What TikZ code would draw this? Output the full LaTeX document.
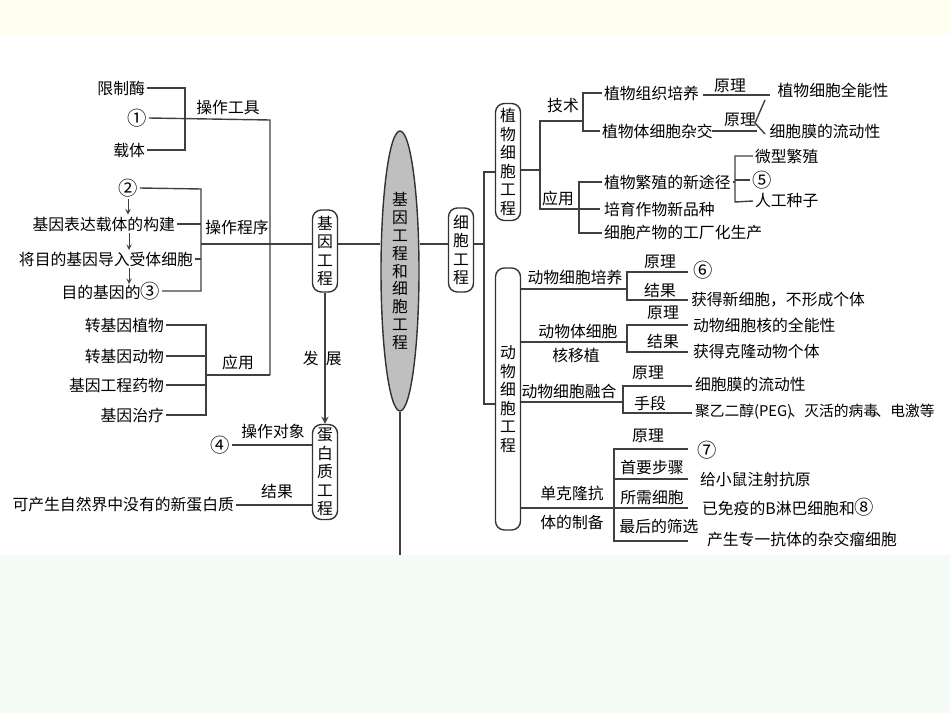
\documentclass[tikz,border=0pt]{standalone}
\usepackage{fontspec}
\setmainfont{Noto Sans CJK SC}
\usetikzlibrary{shapes.geometric, arrows}
\tikzstyle{vbox} = [rectangle, rounded corners=5pt, draw=black!80, thick, inner sep=1pt, minimum width=0.5cm, align=center, font=\fontsize{9}{10.5}\selectfont]
\tikzstyle{txt} = [inner sep=1pt, font=\fontsize{9}{11}\selectfont]
\tikzstyle{num} = [inner sep=1pt, font=\fontsize{11}{11}\selectfont]
\tikzstyle{line} = [draw=black!75, thick]
\tikzstyle{arrow} = [thick, ->, >=stealth, draw=black!75]

\begin{document}
\begin{tikzpicture}[x=0.02cm, y=-0.02cm]
                \useasboundingbox (0,0) rectangle (950,713);
                \fill[green!8!yellow!6] (0,0) rectangle (950,35);
                \fill[cyan!4!green!4] (0,555) rectangle (950,713);

                % centre
                \node (centre) [ellipse, draw=black!80, thick, fill=black!25, inner sep=0pt, minimum width=0.76cm, minimum height=5.6cm, align=center, font=\fontsize{9}{10.2}\selectfont] at (400,271) {基\\因\\工\\程\\和\\细\\胞\\工\\程};
                \coordinate (bottom) at (400,555);
                \draw [line] (centre.south) -- (bottom);
                \node (gene) [vbox, minimum height=1.64cm] at (325,251) {基\\因\\工\\程};
                \node (protein) [vbox, minimum height=1.9cm] at (325,472) {蛋\\白\\质\\工\\程};
                \node (cell) [vbox, minimum height=1.68cm] at (461,250) {细\\胞\\工\\程};
                \node (plant) [vbox, minimum height=2.34cm] at (508,162) {植\\物\\细\\胞\\工\\程};
                \node (animal) [vbox, minimum height=5.24cm] at (508,399) {动\\物\\细\\胞\\工\\程};
                \draw [line] (gene.east |- 0,244) -- (centre.west |- 0,244);
                \draw [line] (centre.east |- 0,244) -- (cell.west |- 0,244);
                \draw [line] (cell.east |- 0,244) -- (484,244);
                \draw [line] (plant.west |- 0,172) -| (484,404) -- (animal.west |- 0,404);
                \draw [arrow] (gene) -- node[txt, right, xshift=-14pt] {发\ \ 展} (protein);

                % gene engineering: tools
                \node (enzyme) [txt, anchor=east] at (147,88) {限制酶};
                \node (n1) [num] at (137,118) {①};
                \node (vector) [txt, anchor=east] at (147,150) {载体};
                \draw [line] (enzyme.east) -- (185,88) -- (185,150) -- (vector.east);
                \draw [line] (n1.east) -- (270,120) -- (270,375);
                \node [txt] at (228,107) {操作工具};

                % gene engineering: procedure
                \node (n2) [num] at (128,188) {②};
                \node (build) [txt, anchor=east] at (177,224) {基因表达载体的构建};
                \node (import) [txt, anchor=east] at (195,259) {将目的基因导入受体细胞};
                \node (detect) [txt, anchor=east] at (162,291) {目的基因的\fontsize{11}{11}\selectfont③};
                \draw [line] (n2.east) -- (201,189) -- (201,291) -- (detect.east);
                \draw [line] (build.east) -- (201,224);
                \draw [line] (import.east) -- (201,259);
                \draw [line] (201,244) -- (gene.west |- 0,244);
                \draw [arrow, thin] (n2.south) -- (n2.south |- build.north);
                \draw [arrow, thin] (129,233) -- (129,250);
                \draw [arrow, thin] (129,268) -- (129,284);
                \node [txt] at (237,227) {操作程序};

                % gene engineering: application
                \node (gplant) [txt, anchor=east] at (166,325) {转基因植物};
                \node (ganimal) [txt, anchor=east] at (166,356) {转基因动物};
                \node (drug) [txt, anchor=east] at (166,385) {基因工程药物};
                \node (therapy) [txt, anchor=east] at (166,415) {基因治疗};
                \draw [line] (gplant.east) -- (206,325) -- (206,415) -- (therapy.east);
                \draw [line] (ganimal.east) -- (206,356);
                \draw [line] (drug.east) -- (206,385);
                \draw [line] (206,375) -- (270,375);
                \node [txt] at (238,362) {应用};

                % protein engineering
                \node (n4) [num] at (220,445) {④};
                \draw [line] (n4.east) -- (protein.west |- n4);
                \node [txt] at (273,431) {操作对象};
                \node (newprot) [txt, anchor=east] at (236,505) {可产生自然界中没有的新蛋白质};
                \draw [line] (newprot.east) -- (protein.west |- newprot);
                \node [txt] at (277,491) {结果};

                % plant cell engineering
                \draw [line] (plant.east |- 0,170) -- (540,170);
                \draw [line] (583,121) -- (540,121) -- (540,209) -- (600,209);
                \node [txt] at (563,105) {技术};
                \node [txt] at (558,198) {应用};
                \node (tissue) [txt, anchor=west] at (602,93) {植物组织培养};
                \node (hybrid) [txt, anchor=west] at (600,131) {植物体细胞杂交};
                \draw [line] (tissue.west) -- (583,93) -- (583,131) -- (hybrid.west);
                \coordinate (tip) at (755,123);
                \draw [line] (703,95) -- (770,95);
                \draw [line] (712,131) -- (757,131);
                \draw [line] (765,100) -- (tip) -- (765,134);
                \node [txt] at (730,86) {原理};
                \node [txt] at (740,120) {原理};
                \node [txt] at (833,90) {植物细胞全能性};
                \node [txt] at (825,131) {细胞膜的流动性};
                \node (newway) [txt, anchor=west] at (602,182) {植物繁殖的新途径};
                \node (breed) [txt, anchor=west] at (602,209) {培育作物新品种};
                \node (factory) [txt, anchor=west] at (602,233) {细胞产物的工厂化生产};
                \draw [line] (newway.west) -- (579,182) -- (579,233) -- (factory.west);
                \node (micro) [txt, anchor=west] at (753,156) {微型繁殖};
                \node (n5) [num, anchor=west] at (750,180) {⑤};
                \node (seed) [txt, anchor=west] at (753,201) {人工种子};
                \draw [line] (newway.east) -- (735,182);
                \draw [line] (micro.west) -- (735,156) -- (735,202) -- (seed.west);
                \draw [line] (735,180) -- (n5.west);

                % animal cell engineering
                \node [txt] at (575,277) {动物细胞培养};
                \draw [line] (animal.east |- 0,289) -- (627,289);
                \draw [line] (688,272) -- (627,272) -- (627,300) -- (688,300);
                \node [txt] at (660,262) {原理};
                \node [txt] at (660,290) {结果};
                \node [num] at (703,270) {⑥};
                \node [txt, anchor=west] at (689,300) {获得新细胞，不形成个体};

                \node [txt] at (578,331) {动物体细胞};
                \node [txt] at (576,355) {核移植};
                \draw [line] (animal.east |- 0,342) -- (627,342);
                \draw [line] (688,325) -- (627,325) -- (627,352) -- (688,352);
                \node [txt] at (663,313) {原理};
                \node [txt] at (663,341) {结果};
                \node [txt, anchor=west] at (691,325) {动物细胞核的全能性};
                \node [txt, anchor=west] at (691,351) {获得克隆动物个体};

                \node [txt] at (569,391) {动物细胞融合};
                \draw [line] (animal.east |- 0,402) -- (623,402);
                \draw [line] (692,386) -- (623,386) -- (623,413) -- (692,413);
                \node [txt] at (648,373) {原理};
                \node [txt] at (650,403) {手段};
                \node [txt, anchor=west] at (693,384) {细胞膜的流动性};
                \node [txt, anchor=west, font=\fontsize{8.4}{10}\selectfont] at (693,412) {聚乙二醇(PEG)\hspace{-1.5pt}、灭活的病毒\hspace{-1.5pt}、电激等};

                \node [txt] at (572,493) {单克隆抗};
                \node [txt] at (572,522) {体的制备};
                \draw [line] (animal.east |- 0,508) -- (614,508);
                \draw [line] (688,449) -- (614,449) -- (614,541) -- (688,541);
                \draw [line] (614,479) -- (688,479);
                \draw [line] (614,508) -- (688,508);
                \node [txt] at (648,436) {原理};
                \node [txt] at (652,467) {首要步骤};
                \node [txt] at (652,497) {所需细胞};
                \node [txt] at (659,526) {最后的筛选};
                \node [num] at (707,450) {⑦};
                \node [txt, anchor=west] at (698,479) {给小鼠注射抗原};
                \node [txt, anchor=west] at (700,507) {已免疫的B淋巴细胞和\fontsize{11}{11}\selectfont⑧};
                \node [txt, anchor=west] at (705,539) {产生专一抗体的杂交瘤细胞};
            \end{tikzpicture}
\end{document}
